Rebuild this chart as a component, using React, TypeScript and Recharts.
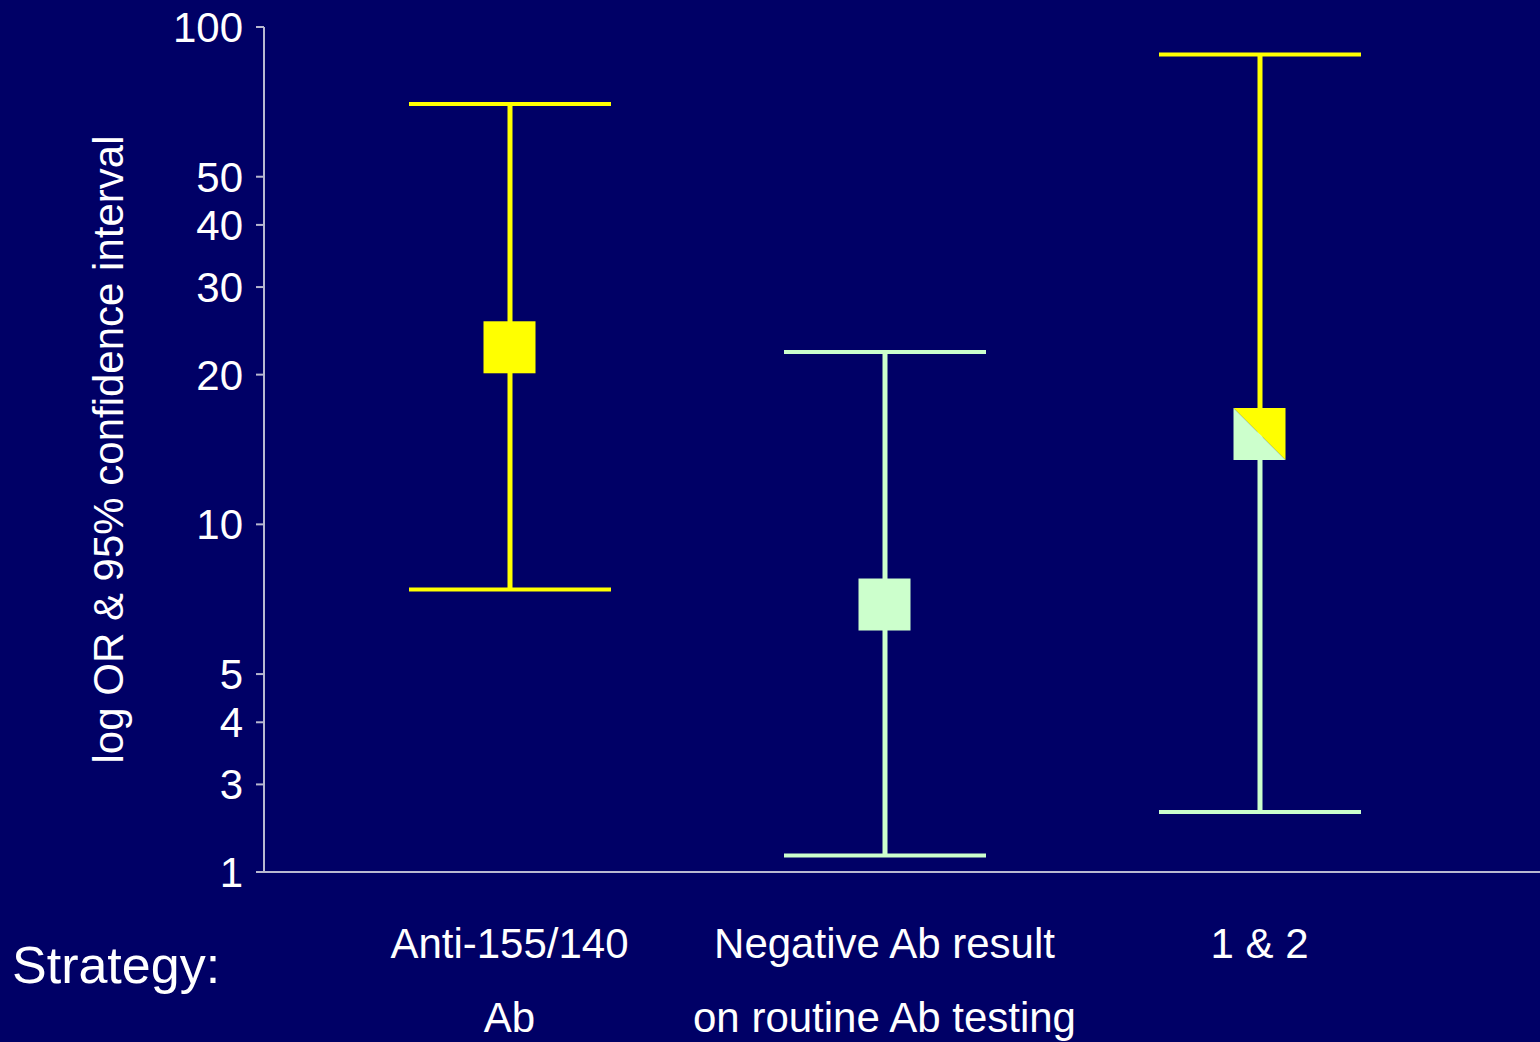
import React from 'react';
import { ComposedChart, Bar, Scatter, XAxis, YAxis } from 'recharts';

// categories (strategies) and the read-off odds ratios with 95% CI
const CATEGORIES = ['Anti-155/140 Ab', 'Negative Ab result on routine Ab testing', '1 & 2'];
const CATEGORY_LINES = [['Anti-155/140', 'Ab'], ['Negative Ab result', 'on routine Ab testing'], ['1 & 2']];
const ODDS_RATIO = [22.7, 6.9, 15.2];
const CI_LOW = [7.4, 2.16, 2.64];
const CI_HIGH = [70, 22.2, 88];

// the slide labels its bottom tick "1" although it sits where 2 falls on the log scale
const Y_TICKS = [2, 3, 4, 5, 10, 20, 30, 40, 50, 100];
const Y_TICK_LABELS = ['1', '3', '4', '5', '10', '20', '30', '40', '50', '100'];

const BG = '#000066';
const YELLOW = '#ffff00';
const GREEN = '#ccffcc';
const AXIS = '#b8b8d0';
const FONT = '"Liberation Sans", Arial, sans-serif';

// colours per strategy: upper half / lower half
const TOP_COLOR = [YELLOW, GREEN, YELLOW];
const BOTTOM_COLOR = [YELLOW, GREEN, GREEN];

const data = CATEGORIES.map((name, i) => ({
  name,
  idx: i,
  or: ODDS_RATIO[i],
  upper: [ODDS_RATIO[i], CI_HIGH[i]],
  lower: [CI_LOW[i], ODDS_RATIO[i]],
}));

const UpperWhisker = (props: any) => {
  const { x, y, width, height, payload } = props;
  const c = TOP_COLOR[payload.idx];
  const cx = x + width / 2;
  return (
    <g>
      <line x1={cx} y1={y} x2={cx} y2={y + height} stroke={c} strokeWidth={5} />
      <line x1={x} y1={y} x2={x + width} y2={y} stroke={c} strokeWidth={4} />
    </g>
  );
};

const LowerWhisker = (props: any) => {
  const { x, y, width, height, payload } = props;
  const c = BOTTOM_COLOR[payload.idx];
  const cx = x + width / 2;
  return (
    <g>
      <line x1={cx} y1={y} x2={cx} y2={y + height} stroke={c} strokeWidth={5} />
      <line x1={x} y1={y + height} x2={x + width} y2={y + height} stroke={c} strokeWidth={4} />
    </g>
  );
};

const Marker = (props: any) => {
  const { cx, cy, payload } = props;
  const s = 26;
  const top = TOP_COLOR[payload.idx];
  const bottom = BOTTOM_COLOR[payload.idx];
  if (top === bottom) {
    return <rect x={cx - s} y={cy - s} width={s * 2} height={s * 2} fill={top} />;
  }
  return (
    <g>
      <polygon points={`${cx - s},${cy - s} ${cx + s},${cy - s} ${cx + s},${cy + s}`} fill={top} />
      <polygon points={`${cx - s},${cy - s} ${cx - s},${cy + s} ${cx + s},${cy + s}`} fill={bottom} />
    </g>
  );
};

const CategoryTick = (props: any) => {
  const { x, y, index } = props;
  const lines = CATEGORY_LINES[index] || [];
  return (
    <g>
      {lines.map((line, i) => (
        <text key={i} x={x} y={y + 86 + i * 74} textAnchor="middle" fill="#ffffff" fontSize={42} fontFamily={FONT}>
          {line}
        </text>
      ))}
    </g>
  );
};

const YTitle = (props: any) => {
  const { viewBox } = props;
  const x = viewBox.x + 123;
  const y = viewBox.y + viewBox.height / 2;
  return (
    <text x={x} y={y} transform={`rotate(-90, ${x}, ${y})`} textAnchor="middle" fill="#ffffff" fontSize={42} fontFamily={FONT}>
      log OR &amp; 95% confidence interval
    </text>
  );
};

export default function App() {
  return (
    <div style={{ position: 'absolute', left: 0, top: 0, width: 1540, height: 1042, background: BG, overflow: 'hidden' }}>
      <ComposedChart width={1540} height={1042} data={data} margin={{ top: 27, right: 0, bottom: 0, left: 0 }}>
        <XAxis
          xAxisId="a"
          dataKey="name"
          type="category"
          height={170}
          padding={{ left: 58, right: 93 }}
          axisLine={{ stroke: AXIS, strokeWidth: 2 }}
          tickLine={false}
          tickSize={0}
          tickMargin={0}
          tick={<CategoryTick />}
          interval={0}
        />
        <XAxis xAxisId="b" dataKey="name" type="category" hide padding={{ left: 58, right: 93 }} />
        <YAxis
          scale="log"
          domain={[2, 100]}
          ticks={Y_TICKS}
          tickFormatter={(v: number) => Y_TICK_LABELS[Y_TICKS.indexOf(v)]}
          allowDataOverflow
          width={264}
          axisLine={{ stroke: AXIS, strokeWidth: 2 }}
          tickLine={{ stroke: AXIS, strokeWidth: 2 }}
          tickSize={8}
          tickMargin={13}
          interval={0}
          tick={{ fill: '#ffffff', fontSize: 42, fontFamily: FONT }}
          label={{ content: <YTitle /> }}
        />
        <Bar xAxisId="a" dataKey="upper" barSize={202} shape={<UpperWhisker />} isAnimationActive={false} />
        <Bar xAxisId="b" dataKey="lower" barSize={202} shape={<LowerWhisker />} isAnimationActive={false} />
        <Scatter xAxisId="a" dataKey="or" shape={<Marker />} isAnimationActive={false} />
      </ComposedChart>
      <div
        style={{
          position: 'absolute',
          left: 12,
          top: 939,
          fontFamily: FONT,
          fontSize: 52,
          lineHeight: '52px',
          color: '#ffffff',
        }}
      >
        Strategy:
      </div>
    </div>
  );
}
